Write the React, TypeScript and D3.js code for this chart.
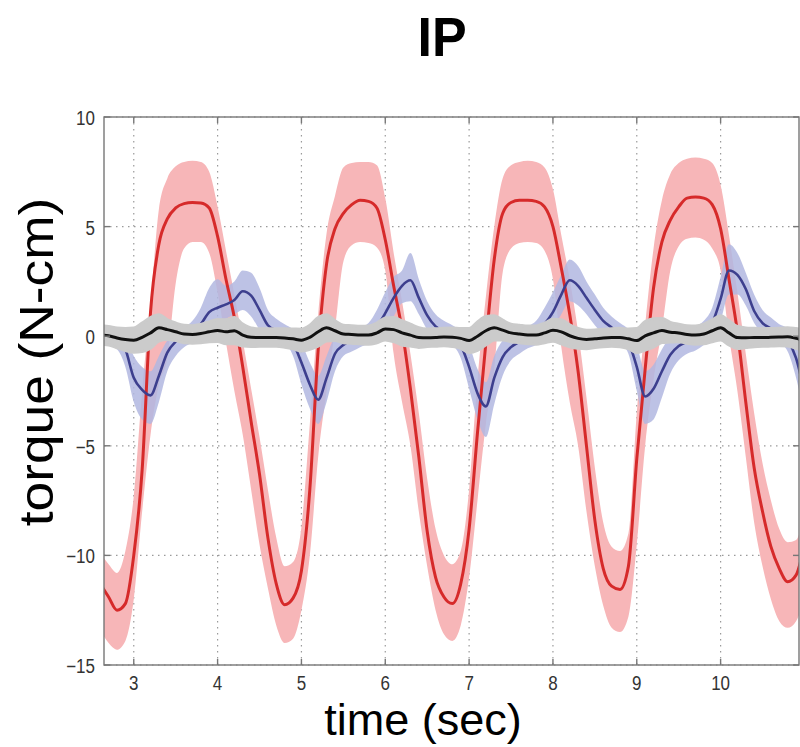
import React from 'react';
import * as d3 from 'd3';

// time grid (sec)
const TIME = [
  2.6, 2.7, 2.8, 2.9,
  3.0, 3.1, 3.2, 3.3, 3.4, 3.5, 3.6, 3.7, 3.8, 3.9,
  4.0, 4.1, 4.2, 4.3, 4.4, 4.5, 4.6, 4.7, 4.8, 4.9,
  5.0, 5.1, 5.2, 5.3, 5.4, 5.5, 5.6, 5.7, 5.8, 5.9,
  6.0, 6.1, 6.2, 6.3, 6.4, 6.5, 6.6, 6.7, 6.8, 6.9,
  7.0, 7.1, 7.2, 7.3, 7.4, 7.5, 7.6, 7.7, 7.8, 7.9,
  8.0, 8.1, 8.2, 8.3, 8.4, 8.5, 8.6, 8.7, 8.8, 8.9,
  9.0, 9.1, 9.2, 9.3, 9.4, 9.5, 9.6, 9.7, 9.8, 9.9,
  10.0, 10.1, 10.2, 10.3, 10.4, 10.5, 10.6, 10.7, 10.8, 10.9,
  11.0,
];

// red series: mean and band (torque, N-cm)
const RED_MEAN = [
  -11.3, -11.9, -12.5, -12.2,
  -10.0, -6.1, 1.1, 4.2, 5.35, 5.85, 6.05, 6.1, 6.08, 5.85,
  4.55, 2.6, 0.85, -1.4, -3.9, -6.3, -9.2, -11.3, -12.25, -11.95,
  -10.7, -7.0, -0.6, 3.3, 4.9, 5.6, 6.0, 6.2, 6.15, 5.85,
  4.4, 2.3, 0.3, -2.4, -5.5, -8.9, -11.0, -11.9, -12.2, -11.3,
  -8.8, -4.4, -0.3, 3.5, 5.6, 6.1, 6.2, 6.2, 6.15, 5.9,
  5.0, 3.1, 1.0, -1.6, -5.0, -8.4, -10.6, -11.4, -11.55, -10.5,
  -5.6, -1.5, 2.2, 4.3, 5.3, 5.9, 6.3, 6.35, 6.3, 6.0,
  4.9, 2.6, 0.2, -3.0, -6.0, -8.0, -9.6, -10.6, -11.2, -10.9,
  -9.5,
];
const RED_UPPER = [
  -9.9, -10.4, -10.8, -9.8,
  -7.3, -2.5, 1.5, 5.8, 7.2, 7.75, 7.95, 8.0, 7.95, 7.5,
  5.9, 3.9, 1.9, -0.2, -2.4, -4.6, -7.0, -9.2, -10.5, -10.3,
  -8.7, -4.0, 1.0, 4.7, 6.4, 7.7, 7.9, 7.95, 7.95, 7.8,
  6.3, 3.8, 1.6, -0.8, -3.5, -6.5, -8.8, -10.0, -10.4, -9.8,
  -7.0, -2.0, 1.8, 5.0, 7.2, 7.8, 7.95, 8.0, 7.95, 7.7,
  6.7, 4.6, 2.6, 0.2, -2.8, -6.0, -8.5, -9.6, -9.8, -9.0,
  -3.5, 0.5, 4.0, 6.2, 7.4, 7.9, 8.1, 8.15, 8.1, 7.9,
  6.9, 4.6, 2.0, -0.8, -3.5, -5.8, -7.5, -8.8, -9.4, -9.3,
  -8.0,
];
const RED_LOWER = [
  -13.4, -14.0, -14.3, -13.9,
  -12.0, -8.0, -4.5, -2.2, -1.0, 2.4, 4.0, 4.3, 4.3, 3.8,
  2.0, -0.3, -2.5, -4.5, -7.0, -9.5, -11.5, -13.2, -14.0, -13.8,
  -12.5, -10.0, -5.5, -2.5, 0.3, 3.4, 4.15, 4.3, 4.25, 4.05,
  3.0, -0.8, -3.0, -5.0, -8.0, -10.5, -12.5, -13.6, -13.9, -13.2,
  -11.0, -7.5, -4.0, -1.5, 2.9, 4.0, 4.25, 4.3, 4.25, 3.9,
  2.6, -0.5, -3.0, -5.0, -8.0, -10.5, -12.3, -13.3, -13.5, -12.8,
  -9.5, -5.0, -2.0, 0.3, 3.0, 4.1, 4.45, 4.5, 4.4, 4.0,
  3.0, 0.0, -2.5, -5.5, -8.5, -10.5, -12.0, -13.0, -13.3, -13.0,
  -12.0,
];

// blue series
const BLUE_MEAN = [
  0.0, 0.0, -0.1, -0.6,
  -1.9, -2.45, -2.7, -1.8, -0.75, -0.25, 0.0, 0.2, 0.55, 1.1,
  1.3, 1.45, 1.65, 2.05, 1.85, 1.2, 0.5, 0.27, 0.15, -0.3,
  -1.2, -2.2, -2.9, -1.9, -0.8, -0.4, -0.2, -0.05, 0.1, 0.45,
  1.05, 1.75, 2.3, 2.55, 1.75, 0.95, 0.45, 0.25, 0.05, -0.4,
  -1.4, -2.6, -3.2, -1.9, -0.95, -0.5, -0.25, -0.05, 0.15, 0.55,
  1.1, 1.9, 2.55, 2.3, 1.75, 1.2, 0.7, 0.4, 0.15, -0.25,
  -1.4, -2.75, -2.4, -1.6, -0.85, -0.45, -0.25, -0.15, 0.15, 0.6,
  1.7, 3.0, 2.8, 2.15, 1.15, 0.6, 0.35, 0.1, -0.2, -1.0,
  -2.6,
];
const BLUE_UPPER = [
  0.35, 0.35, 0.3, 0.0,
  -0.9, -1.4, -1.6, -0.9, -0.2, 0.2, 0.4, 0.7, 1.3, 2.2,
  2.6, 2.3, 2.5, 3.0, 2.9, 2.2, 1.2, 0.8, 0.55, 0.3,
  -0.3, -1.2, -1.8, -0.9, 0.0, 0.3, 0.35, 0.4, 0.6, 1.2,
  2.0, 2.7, 3.0, 3.8, 2.6, 1.6, 1.0, 0.7, 0.5, 0.2,
  -0.4, -1.5, -2.1, -0.9, -0.2, 0.1, 0.3, 0.45, 0.7, 1.3,
  2.0, 2.8, 3.5, 3.2, 2.5, 1.9, 1.3, 0.9, 0.6, 0.3,
  -0.4, -1.6, -1.3, -0.6, 0.0, 0.25, 0.35, 0.45, 0.7, 1.3,
  2.7, 4.2, 3.8, 2.9, 1.9, 1.2, 0.85, 0.55, 0.35, -0.2,
  -1.5,
];
const BLUE_LOWER = [
  -0.35, -0.4, -0.6, -1.4,
  -3.0, -3.8, -4.0, -3.0, -1.6, -0.9, -0.5, -0.3, -0.1, 0.3,
  0.6, 0.8, 1.0, 1.2, 0.9, 0.3, -0.2, -0.3, -0.35, -0.9,
  -2.2, -3.3, -4.0, -3.0, -1.6, -0.9, -0.7, -0.5, -0.35, -0.1,
  0.3, 0.9, 1.5, 1.6, 1.0, 0.3, -0.1, -0.25, -0.4, -1.0,
  -2.4, -3.8, -4.6, -3.1, -1.8, -1.1, -0.8, -0.55, -0.4, -0.1,
  0.3, 1.0, 1.6, 1.4, 1.0, 0.5, 0.1, -0.1, -0.3, -0.8,
  -2.5, -4.0, -3.8, -2.8, -1.7, -1.1, -0.8, -0.65, -0.4, -0.1,
  0.7, 1.9, 1.9, 1.4, 0.6, 0.1, -0.1, -0.3, -0.7, -1.9,
  -3.7,
];

// black series: mean and gray band half-width
const BLACK_MEAN = [
  0.05, 0.02, -0.08, -0.15,
  -0.18, -0.05, 0.15, 0.38, 0.3, 0.2, 0.1, 0.08, 0.12, 0.2,
  0.26, 0.2, 0.25, 0.05, -0.05, -0.06, -0.06, -0.06, -0.08, -0.12,
  -0.18, -0.05, 0.2, 0.38, 0.25, 0.1, 0.08, 0.05, 0.05, 0.15,
  0.33, 0.3, 0.15, 0.05, -0.06, -0.07, -0.06, -0.04, -0.05, -0.1,
  -0.2, 0.0, 0.25, 0.38, 0.28, 0.15, 0.1, 0.06, 0.05, 0.15,
  0.27, 0.2, 0.02, -0.1, -0.15, -0.12, -0.08, -0.06, -0.06, -0.12,
  -0.2, 0.02, 0.15, 0.26, 0.18, 0.15, 0.08, 0.05, 0.1, 0.25,
  0.38, 0.15, -0.06, -0.07, -0.06, -0.06, -0.05, -0.04, -0.03, -0.1,
  -0.2,
];
const GRAY_HALF = [
  0.42, 0.42, 0.45, 0.5,
  0.55, 0.65, 0.7, 0.6, 0.45, 0.4, 0.4, 0.4, 0.42, 0.45,
  0.5, 0.55, 0.6, 0.5, 0.42, 0.4, 0.4, 0.4, 0.42, 0.45,
  0.5, 0.55, 0.65, 0.6, 0.45, 0.4, 0.4, 0.4, 0.42, 0.45,
  0.5, 0.55, 0.55, 0.5, 0.45, 0.4, 0.4, 0.4, 0.42, 0.45,
  0.55, 0.65, 0.65, 0.55, 0.45, 0.4, 0.4, 0.4, 0.42, 0.45,
  0.5, 0.55, 0.5, 0.45, 0.42, 0.4, 0.4, 0.4, 0.42, 0.45,
  0.55, 0.65, 0.65, 0.55, 0.45, 0.4, 0.4, 0.42, 0.45, 0.5,
  0.55, 0.55, 0.5, 0.45, 0.42, 0.4, 0.4, 0.4, 0.42, 0.45,
  0.5,
];

const X_TICKS = [3, 4, 5, 6, 7, 8, 9, 10];
const Y_TICKS = [10, 5, 0, -5, -10, -15];

const TITLE = 'IP';
const X_LABEL = 'time (sec)';
const Y_LABEL = 'torque (N-cm)';

const W = 800;
const H = 747;
const PL = 104, PR = 799, PT = 117, PB = 665;
const FONT = "'Liberation Sans', Arial, Helvetica, sans-serif";

export default function App() {
  const x = d3.scaleLinear().domain([2.645, 10.935]).range([PL, PR]);
  const y = d3.scaleLinear().domain([-15, 10]).range([PB, PT]);
  const idx = d3.range(TIME.length);

  const band = (lo: number[], hi: number[]) =>
    d3.area<number>()
      .x(i => x(TIME[i]))
      .y0(i => y(lo[i]))
      .y1(i => y(hi[i]))
      .curve(d3.curveMonotoneX)(idx) || '';
  const line = (v: number[]) =>
    d3.line<number>()
      .x(i => x(TIME[i]))
      .y(i => y(v[i]))
      .curve(d3.curveMonotoneX)(idx) || '';
  const grayBand =
    d3.area<number>()
      .x(i => x(TIME[i]))
      .y0(i => y(BLACK_MEAN[i] - GRAY_HALF[i]))
      .y1(i => y(BLACK_MEAN[i] + GRAY_HALF[i]))
      .curve(d3.curveMonotoneX)(idx) || '';

  const fmt = (v: number) => (v < 0 ? '\u2212' + Math.abs(v) : String(v));

  return (
    <svg width={W} height={H} style={{ position: 'absolute', left: 0, top: 0, background: '#fff' }}>
      <defs>
        <clipPath id="plot">
          <rect x={PL} y={PT} width={PR - PL} height={PB - PT} />
        </clipPath>
      </defs>
      <rect x={0} y={0} width={W} height={H} fill="#fff" />
      {/* grid */}
      <g stroke="#9a9a9a" strokeWidth={1.2} strokeDasharray="1.5 4.5">
        {X_TICKS.map(t => (
          <line key={'gx' + t} x1={x(t)} x2={x(t)} y1={PT} y2={PB} />
        ))}
        {Y_TICKS.map(t => (
          <line key={'gy' + t} x1={PL} x2={PR} y1={y(t)} y2={y(t)} />
        ))}
      </g>
      <g clipPath="url(#plot)">
        <path d={band(RED_LOWER, RED_UPPER)} fill="#f7b6b8" />
        <path d={band(BLUE_LOWER, BLUE_UPPER)} fill="#b2b7e0" fillOpacity={0.85} />
        <path d={line(RED_MEAN)} fill="none" stroke="#d62a2a" strokeWidth={3} strokeLinejoin="round" />
        <path d={line(BLUE_MEAN)} fill="none" stroke="#3d3f8e" strokeWidth={2.6} strokeLinejoin="round" />
        <path d={grayBand} fill="#cbcbcb" stroke="#cbcbcb" strokeWidth={3} strokeLinejoin="round" />
        <path d={line(BLACK_MEAN)} fill="none" stroke="#111" strokeWidth={3} strokeLinejoin="round" />
      </g>
      {/* frame */}
      <rect x={PL} y={PT} width={PR - PL} height={PB - PT} fill="none" stroke="#777" strokeWidth={1.4} />
      <g stroke="#777" strokeWidth={1.4}>
        {X_TICKS.map(t => (
          <g key={'tx' + t}>
            <line x1={x(t)} x2={x(t)} y1={PB} y2={PB - 6} />
            <line x1={x(t)} x2={x(t)} y1={PT} y2={PT + 6} />
          </g>
        ))}
        {Y_TICKS.map(t => (
          <g key={'ty' + t}>
            <line x1={PL} x2={PL + 6} y1={y(t)} y2={y(t)} />
            <line x1={PR} x2={PR - 6} y1={y(t)} y2={y(t)} />
          </g>
        ))}
      </g>
      {/* tick labels */}
      <g fontFamily={FONT} fontSize={17} fill="#333">
        {X_TICKS.map(t => (
          <text key={'lx' + t} transform={`translate(${x(t)},${690}) scale(1,1.15)`} textAnchor="middle">
            {fmt(t)}
          </text>
        ))}
        {Y_TICKS.map(t => (
          <text key={'ly' + t} transform={`translate(${95},${y(t) + 8}) scale(1,1.15)`} textAnchor="end">
            {fmt(t)}
          </text>
        ))}
      </g>
      {/* titles */}
      <text
        transform={`translate(442,56) scale(1,1.05)`}
        textAnchor="middle"
        fontFamily={FONT}
        fontWeight="bold"
        fontSize={52}
        fill="#000"
      >
        {TITLE}
      </text>
      <text
        transform={`translate(423,735)`}
        textAnchor="middle"
        fontFamily={FONT}
        fontSize={45}
        fill="#000"
      >
        {X_LABEL}
      </text>
      <text
        transform={`translate(53,362) rotate(-90) scale(1.11,1)`}
        textAnchor="middle"
        fontFamily={FONT}
        fontSize={48}
        fill="#000"
      >
        {Y_LABEL}
      </text>
    </svg>
  );
}
